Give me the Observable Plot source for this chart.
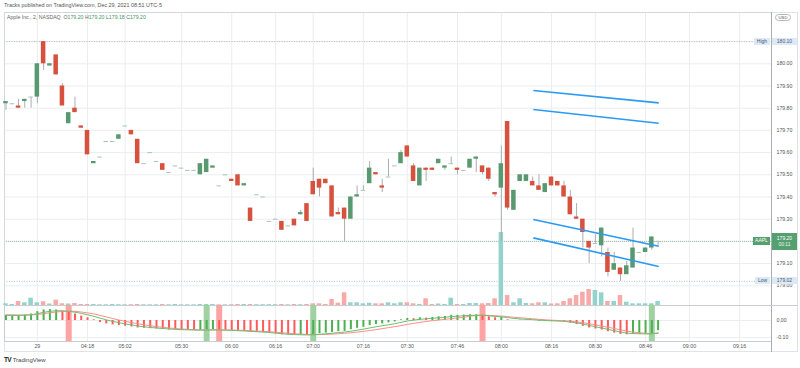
<!DOCTYPE html>
<html><head><meta charset="utf-8">
<script src="https://cdn.jsdelivr.net/npm/d3@7"></script>
<script src="https://cdn.jsdelivr.net/npm/@observablehq/plot@0.6"></script>
<style>
html,body{margin:0;padding:0;background:#fff;}
#wrap{position:relative;width:800px;height:368px;overflow:hidden;background:#fff;font-family:"Liberation Sans","DejaVu Sans",Arial,sans-serif;}
#wrap svg{position:absolute;left:0;top:0;}
.lbl{position:absolute;white-space:nowrap;line-height:1;}
.box{position:absolute;white-space:nowrap;text-align:center;box-sizing:border-box;}
</style></head><body><div id="wrap"></div>
<script>
// ---------- data ----------
const opens  = [179.82,179.82,179.81,179.83,179.85,179.85,180.10,179.99,180.04,179.90,
179.73,179.80,179.72,179.70,179.55,179.58,179.65,179.65,179.66,179.72,
179.70,179.66,179.55,179.60,179.56,179.55,179.51,179.54,179.53,179.52,
179.52,179.50,179.51,179.53,179.45,179.50,179.48,179.50,179.45,179.35,
179.41,179.40,179.29,179.30,179.29,179.27,179.30,179.32,179.37,179.47,
179.48,179.48,179.45,179.33,179.35,179.30,179.40,179.43,179.46,179.51,
179.45,179.49,179.54,179.55,179.63,179.54,179.45,179.53,179.53,179.55,
179.53,179.55,179.53,179.52,179.53,179.57,179.54,179.53,179.42,179.44,
179.74,179.34,179.47,179.47,179.47,179.45,179.42,179.49,179.47,179.45,
179.40,179.31,179.30,179.20,179.19,179.18,179.15,179.07,179.08,179.05,
179.08,179.15,179.15,179.17,179.20];
const highs  = [179.83,179.82,179.84,179.84,179.85,180.00,180.10,180.00,180.04,179.91,
179.78,179.85,179.72,179.70,179.56,179.58,179.65,179.65,179.68,179.72,
179.70,179.66,179.55,179.60,179.56,179.55,179.51,179.54,179.53,179.52,
179.52,179.55,179.57,179.54,179.45,179.50,179.48,179.50,179.46,179.35,
179.41,179.40,179.29,179.30,179.29,179.27,179.30,179.34,179.37,179.53,
179.48,179.48,179.45,179.35,179.35,179.40,179.45,179.45,179.56,179.51,
179.48,179.57,179.54,179.61,179.63,179.55,179.53,179.53,179.53,179.57,
179.54,179.58,179.53,179.52,179.57,179.58,179.54,179.53,179.42,179.63,
179.74,179.43,179.50,179.50,179.49,179.50,179.46,179.49,179.47,179.47,
179.43,179.37,179.30,179.20,179.23,179.26,179.17,179.15,179.08,179.11,
179.26,179.15,179.17,179.22,179.20];
const lows   = [179.79,179.82,179.80,179.80,179.80,179.82,179.97,179.99,179.95,179.81,
179.73,179.78,179.71,179.59,179.55,179.58,179.65,179.65,179.66,179.72,
179.68,179.55,179.55,179.60,179.56,179.52,179.51,179.54,179.53,179.52,
179.52,179.50,179.51,179.53,179.45,179.50,179.47,179.45,179.45,179.29,
179.41,179.40,179.29,179.30,179.25,179.27,179.27,179.32,179.29,179.41,
179.40,179.46,179.31,179.32,179.20,179.30,179.40,179.43,179.46,179.50,
179.42,179.49,179.54,179.55,179.58,179.47,179.45,179.47,179.52,179.55,
179.52,179.55,179.50,179.52,179.53,179.51,179.50,179.47,179.40,179.20,
179.34,179.34,179.47,179.47,179.45,179.43,179.42,179.45,179.45,179.40,
179.32,179.30,179.17,179.10,179.19,179.13,179.04,179.07,179.02,179.05,
179.08,179.15,179.15,179.16,179.18];
const closes = [179.83,179.82,179.80,179.84,179.85,180.00,180.00,180.00,179.95,179.81,
179.78,179.78,179.71,179.59,179.56,179.58,179.65,179.65,179.68,179.72,
179.68,179.55,179.55,179.60,179.56,179.52,179.51,179.54,179.53,179.52,
179.52,179.55,179.57,179.54,179.45,179.50,179.47,179.45,179.46,179.29,
179.41,179.40,179.29,179.30,179.25,179.27,179.27,179.33,179.29,179.41,
179.44,179.46,179.31,179.32,179.30,179.40,179.41,179.43,179.53,179.50,
179.44,179.49,179.54,179.60,179.58,179.47,179.53,179.52,179.52,179.57,
179.54,179.55,179.52,179.52,179.57,179.58,179.51,179.48,179.41,179.55,
179.35,179.43,179.50,179.50,179.45,179.43,179.46,179.45,179.45,179.40,
179.32,179.30,179.24,179.17,179.19,179.26,179.06,179.10,179.05,179.09,
179.17,179.15,179.17,179.22,179.20];
const volumes = [1700,1000,4000,2700,7300,2700,3700,1500,5300,1700,
1500,2000,1000,1000,1000,700,700,1000,800,700,
800,1000,700,700,700,1000,700,1000,700,700,
700,1000,1000,1000,700,700,800,1000,1000,1000,
800,800,800,800,1000,700,1000,800,1000,1700,
1700,1000,6000,2300,12700,2700,2700,1700,2300,1700,
1700,2700,1700,2700,2700,1700,1000,6700,1000,1500,
1000,7300,1000,1000,2000,2000,1700,2000,6700,73000,
10000,2700,6700,2000,1700,2700,2700,1500,1700,4000,
6700,10000,13300,16000,15000,12700,4000,4000,10000,3300,
1700,1700,1700,1700,4000];
const oscillator = [0.030,0.030,0.028,0.032,0.038, 0.052,0.062,0.064,0.062,0.056,
0.048,0.038,0.026,0.016,0.004, -0.012,-0.020,-0.026,-0.030,-0.034,
-0.038,-0.044,-0.046,-0.048,-0.050, -0.053,-0.055,-0.056,-0.057,-0.058,
-0.059,-0.058,-0.055,-0.054,-0.056, -0.058,-0.060,-0.063,-0.064,-0.068,
-0.070,-0.072,-0.076,-0.080,-0.084, -0.086,-0.087,-0.086,-0.088,-0.084,
-0.078,-0.074,-0.070,-0.066,-0.064, -0.054,-0.046,-0.040,-0.030,-0.024,
-0.020,-0.014,-0.008,0.004,0.012, 0.010,0.016,0.014,0.018,0.022,
0.024,0.030,0.030,0.032,0.034, 0.034,0.030,0.022,0.016,0.020,
0.004,0.000,0.002,0.004,0.000, -0.004,-0.004,-0.006,-0.006,-0.008,
-0.016,-0.024,-0.034,-0.044,-0.050, -0.056,-0.066,-0.074,-0.082,-0.084,
-0.082,-0.080,-0.080,-0.080,-0.060];
const greenLine = [0.030,0.030,0.030,0.031,0.034, 0.040,0.048,0.054,0.057,0.057,
0.054,0.049,0.042,0.034,0.025, 0.014,0.004,-0.005,-0.013,-0.020,
-0.026,-0.032,-0.037,-0.041,-0.044, -0.047,-0.050,-0.052,-0.054,-0.055,
-0.056,-0.057,-0.056,-0.055,-0.056, -0.057,-0.058,-0.060,-0.062,-0.064,
-0.066,-0.068,-0.071,-0.074,-0.078, -0.081,-0.083,-0.084,-0.085,-0.084,
-0.081,-0.078,-0.075,-0.071,-0.068, -0.063,-0.057,-0.051,-0.044,-0.037,
-0.031,-0.025,-0.019,-0.011,-0.003, 0.002,0.007,0.010,0.013,0.016,
0.019,0.023,0.025,0.028,0.030, 0.031,0.031,0.028,0.024,0.022,
0.017,0.012,0.009,0.007,0.005, 0.002,0.000,-0.002,-0.003,-0.005,
-0.009,-0.014,-0.021,-0.029,-0.037, -0.044,-0.052,-0.060,-0.068,-0.074,
-0.077,-0.078,-0.079,-0.079,-0.072];
const redLine = [0.034,0.033,0.032,0.032,0.033, 0.036,0.040,0.045,0.050,0.053,
0.055,0.054,0.050,0.045,0.039, 0.030,0.021,0.012,0.003,-0.005,
-0.012,-0.019,-0.025,-0.031,-0.036, -0.040,-0.044,-0.047,-0.050,-0.052,
-0.054,-0.055,-0.056,-0.056,-0.055, -0.056,-0.056,-0.057,-0.058,-0.060,
-0.062,-0.064,-0.066,-0.069,-0.072, -0.075,-0.078,-0.080,-0.082,-0.083,
-0.083,-0.082,-0.080,-0.078,-0.075, -0.072,-0.068,-0.064,-0.059,-0.054,
-0.048,-0.042,-0.036,-0.030,-0.023, -0.017,-0.011,-0.006,-0.001,0.003,
0.007,0.011,0.015,0.018,0.026, 0.029,0.032,0.030,0.028,0.026,
0.023,0.019,0.016,0.013,0.010, 0.007,0.004,0.002,0.000,-0.002,
-0.004,-0.008,-0.013,-0.019,-0.026, -0.033,-0.040,-0.047,-0.055,-0.062,
-0.068,-0.072,-0.075,-0.077,-0.076];
const oscColors = "ggggggggg" + "rrrrrrrrrrrrrrrrrrrrrr" + "ggg" + "rrrrrrrrrrrrr" + "g" + "r" +
  "gggggggggggggggg" + "r" + "g" + "r" + "gggggggg" + "rrr" + "g" + "rr" + "gg" + "rrrrrrrrrrrrrrrr" + "ggggg";
const crossBars = [10, 32, 34, 49, 76, 103];
const crossKinds = ["down", "up", "down", "up", "down", "up"];
const chanX1 = [84.1, 84.1, 84.1, 84.1];
const chanX2 = [104.1, 104.1, 104.1, 104.1];
const chanY1 = [179.880, 179.794, 179.299, 179.216];
const chanY2 = [179.824, 179.732, 179.178, 179.087];
const tickBars = [5, 13, 19, 28, 36, 43, 49, 57, 64, 72, 79, 87, 94, 102, 109, 117];
const tickLabels = ["29","04:18","05:02","05:30","06:00","06:16","07:00","07:16","07:30","07:46","08:00","08:16","08:30","08:46","09:00","09:16"];
const priceTicks = [179.0,179.1,179.2,179.3,179.4,179.5,179.6,179.7,179.8,179.9,180.0,180.1];
const priceLabels = [179.0,179.1,179.3,179.4,179.5,179.6,179.7,179.8,179.9,180.0];
const oscTicks = [0, -0.1];
const lastPrice = 179.20, dayHigh = 180.10, dayLow = 179.02;

// ---------- build ----------
const candles = opens.map((o, i) => ({i, o, h: highs[i], l: lows[i], c: closes[i], v: volumes[i],
  osc: oscillator[i], g: greenLine[i], r: redLine[i], oc: oscColors[i]}));
const crosses = crossBars.map((i, k) => ({i, kind: crossKinds[k]}));
const channels = chanX1.map((x1, k) => ({x1, x2: chanX2[k], y1: chanY1[k], y2: chanY2[k]}));

const W = 800, H = 368;
const X = {domain: [0, 104], range: [5.5, 657.6]};
const PY = {domain: [179, 180], range: [285.3, 63.3]};
const base = {width: W, height: H, marginTop: 12, marginBottom: 27, marginLeft: 4, marginRight: 29,
  style: {background: "transparent", color: "#555", fontFamily: "Liberation Sans, DejaVu Sans, sans-serif", overflow: "visible"}};
const UP = "#59996f", DN = "#d7513e", DOJI = "#a6c6b2";
const HW = 0.36;

const gridPlot = Plot.plot({...base,
  x: {...X, axis: null}, y: {...PY, axis: null},
  marks: [
    Plot.gridX(tickBars, {stroke: "#ebedf0", strokeOpacity: 1}),
    Plot.gridY(priceTicks, {stroke: "#ebedf0", strokeOpacity: 1}),
    Plot.ruleY([dayHigh, dayLow], {stroke: "#b9bec6", strokeDasharray: "1,1.5"}),
    Plot.ruleY([lastPrice], {stroke: "#9bbfa6", strokeDasharray: "1,1"}),
    Plot.frame({stroke: "#d4d7dc"}),
    Plot.axisX(tickBars, {anchor: "bottom", tickSize: 0, tickPadding: 3, fontSize: 5.3,
      tickFormat: d => tickLabels[tickBars.indexOf(d)]}),
    Plot.axisY(priceLabels, {anchor: "right", tickSize: 0, tickPadding: 5, fontSize: 5.2,
      tickFormat: d => d.toFixed(2)})
  ]
});

const volPlot = Plot.plot({...base,
  x: {...X, axis: null}, y: {domain: [0, 100000], range: [305, 205], axis: null},
  marks: [
    Plot.rect(candles, {x1: d => d.i - HW, x2: d => d.i + HW, y1: 0, y2: "v",
      fill: d => d.c >= d.o ? "#92d3cb" : "#f7aaa8"})
  ]
});

const mainPlot = Plot.plot({...base,
  x: {...X, axis: null}, y: {...PY, axis: null},
  marks: [
    Plot.ruleX(candles, {x: "i", y1: "l", y2: "h", stroke: "#a9adb2", strokeWidth: 1}),
    Plot.rect(candles.filter(d => Math.abs(d.c - d.o) >= 0.005),
      {x1: d => d.i - HW, x2: d => d.i + HW, y1: "o", y2: "c", fill: d => d.c > d.o ? UP : DN}),
    Plot.ruleY(candles.filter(d => Math.abs(d.c - d.o) < 0.005),
      {x1: d => d.i - HW, x2: d => d.i + HW, y: "c", stroke: DOJI, strokeWidth: 1}),
    Plot.link(channels, {x1: "x1", y1: "y1", x2: "x2", y2: "y2", stroke: "#2a9af3", strokeWidth: 1.6})
  ]
});

const oscPlot = Plot.plot({...base, marginTop: 305,
  x: {...X, axis: null}, y: {domain: [-0.1, 0], range: [337, 320], axis: null},
  marks: [
    Plot.gridY(oscTicks, {stroke: "#ebedf0", strokeOpacity: 1}),
    Plot.frame({stroke: "#c9ccd1"}),
    Plot.ruleX(crosses, {x: "i", strokeWidth: 6, stroke: d => d.kind === "up" ? "#9fd1a1" : "#ffa4a4"}),
    Plot.ruleX(candles, {x: "i", y1: 0, y2: "osc", strokeWidth: 2, stroke: d => d.oc === "g" ? "#4caf50" : "#ff5a5a"}),
    Plot.line(candles, {x: "i", y: "r", stroke: "#ff8c8c", strokeWidth: 1}),
    Plot.line(candles, {x: "i", y: "g", stroke: "#6cc070", strokeWidth: 1}),
    Plot.axisY(oscTicks, {anchor: "right", tickSize: 0, tickPadding: 5, fontSize: 5.2, tickFormat: d => d.toFixed(2)})
  ]
});

const wrap = document.getElementById("wrap");
// outer border and axis column
const border = document.createElement("div");
Object.assign(border.style, {position: "absolute", left: "4px", top: "12px", width: "794px", height: "340px",
  border: "1px solid #dfe2e6", boxSizing: "border-box"});
wrap.appendChild(border);
const vline = document.createElement("div");
Object.assign(vline.style, {position: "absolute", left: "771px", top: "12px", width: "1px", height: "340px", background: "#a9adb3"});

wrap.appendChild(gridPlot);
wrap.appendChild(volPlot);
wrap.appendChild(mainPlot);
wrap.appendChild(oscPlot);
wrap.appendChild(vline);

const sepR = document.createElement("div");
Object.assign(sepR.style, {position: "absolute", left: "771px", top: "305px", width: "27px", height: "1px", background: "#c9ccd1"});
wrap.appendChild(sepR);

function lbl(text, left, top, css) {
  const d = document.createElement("div");
  d.className = "lbl";
  d.textContent = text;
  Object.assign(d.style, {left: left + "px", top: top + "px"}, css || {});
  wrap.appendChild(d);
  return d;
}
function box(html, left, top, w, h, css) {
  const d = document.createElement("div");
  d.className = "box";
  d.innerHTML = html;
  Object.assign(d.style, {left: left + "px", top: top + "px", width: w + "px", height: h + "px"}, css || {});
  wrap.appendChild(d);
  return d;
}

// header
lbl("Tracks published on TradingView.com, Dec 29, 2021 08:51 UTC-5", 4, 3, {fontSize: "5.4px", color: "#555"});
const leg = lbl("", 7, 15, {fontSize: "5.2px", color: "#666"});
leg.innerHTML = 'Apple Inc., 2, NASDAQ&nbsp; <span style="color:#666">O</span><span style="color:#3f9a66">179.20</span> ' +
  '<span style="color:#666">H</span><span style="color:#3f9a66">179.20</span> ' +
  '<span style="color:#666">L</span><span style="color:#3f9a66">179.18</span> ' +
  '<span style="color:#666">C</span><span style="color:#3f9a66">179.20</span>';

// right-axis badges
const ys = gridPlot.scale("y");
const yHigh = ys.apply(dayHigh), yLow = ys.apply(dayLow), yLast = ys.apply(lastPrice);
const blue = {background: "#dde9f7", color: "#4a5a70", fontSize: "5px", lineHeight: "7px"};
box("High", 754, yHigh - 3.5, 16, 7, blue);
box(dayHigh.toFixed(2), 772, yHigh - 3.5, 25, 7, blue);
box("Low", 755, yLow - 3.5, 15, 7, blue);
box(dayLow.toFixed(2), 772, yLow - 3.5, 25, 7, blue);
const grn = {background: "#55a06f", color: "#fff", fontSize: "5px"};
box("AAPL", 753, yLast - 3.8, 17, 7.6, {...grn, lineHeight: "7.6px"});
box('<div style="line-height:6px;padding-top:2px">' + lastPrice.toFixed(2) + '</div><div style="line-height:6px;opacity:0.9">00:11</div>',
  772, yLast - 7.5, 25, 17, grn);
box("USD", 775, 14, 16, 7, {border: "0.7px solid #b5b9bf", borderRadius: "3.5px", fontSize: "4.3px", lineHeight: "5.8px", color: "#555"});

// logo
const logo = lbl("", 4, 357, {fontSize: "6px", color: "#333"});
logo.innerHTML = '<b style="font-size:6.5px;letter-spacing:-0.6px;color:#131722">TV</b> <span style="color:#444">TradingView</span>';
</script></body></html>
